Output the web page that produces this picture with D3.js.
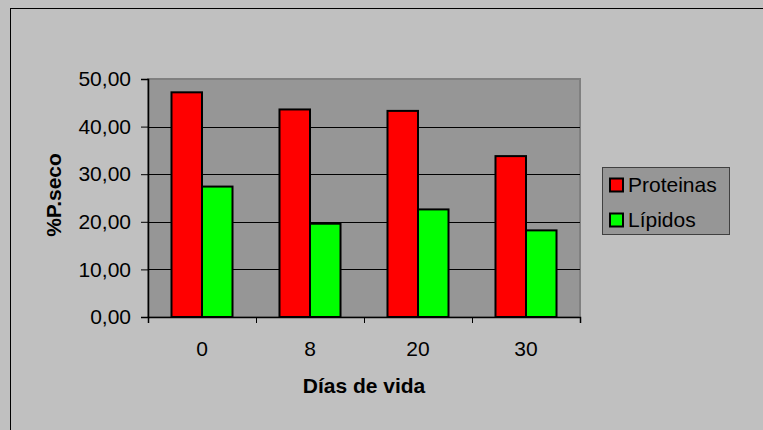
<!DOCTYPE html>
<html>
<head>
<meta charset="utf-8">
<script src="https://cdn.jsdelivr.net/npm/d3@7"></script>
<style>
	html, body { margin: 0; background: #c0c0c0; overflow: hidden; }
	svg { display: block; font-family: Arial, "Liberation Sans", sans-serif; }
</style>
</head>
<body>
<div id="chart"></div>
<script>
	// datos
	let dias = ["0", "8", "20", "30"];
	let series = ["Proteinas", "Lípidos"];
	let proteinas = [47.2, 43.6, 43.3, 33.8];
	let lipidos = [27.4, 19.6, 22.6, 18.2];
	let yTicks = [0, 10, 20, 30, 40, 50];
	let colores = ["#ff0000", "#00ff00"];

	let width = 763, height = 430;
	let plot = {left: 148, top: 79, right: 580, bottom: 317};

	let svg = d3.select("#chart").append("svg")
		.attr("width", width)
		.attr("height", height);

	// fondo y marco exterior (solo se ven los bordes superior e izquierdo)
	svg.append("rect")
		.attr("width", width).attr("height", height)
		.attr("fill", "#c0c0c0");
	svg.append("line")
		.attr("x1", 10).attr("x2", width)
		.attr("y1", 8.5).attr("y2", 8.5)
		.attr("stroke", "#000");
	svg.append("line")
		.attr("x1", 10.5).attr("x2", 10.5)
		.attr("y1", 8).attr("y2", height)
		.attr("stroke", "#000");

	let x0 = d3.scaleBand().domain(dias).range([plot.left, plot.right]);
	let x1 = d3.scaleBand().domain(series).range([0, x0.bandwidth()]).paddingOuter(0.77);
	let y = d3.scaleLinear().domain([0, 50]).range([plot.bottom, plot.top]);

	// area del grafico
	svg.append("rect")
		.attr("x", plot.left).attr("y", plot.top)
		.attr("width", plot.right - plot.left).attr("height", plot.bottom - plot.top)
		.attr("fill", "#969696")
		.attr("stroke", "#808080")
		.attr("stroke-width", 2);

	// lineas de division
	svg.append("g").selectAll("line")
		.data(yTicks.slice(1, -1))
		.enter().append("line")
		.attr("x1", plot.left).attr("x2", plot.right)
		.attr("y1", d => Math.round(y(d)) + 0.5).attr("y2", d => Math.round(y(d)) + 0.5)
		.attr("stroke", "#000");

	let filas = dias.map((d, i) => ({dia: d, valores: [proteinas[i], lipidos[i]]}));

	let grupos = svg.append("g").selectAll("g")
		.data(filas)
		.enter().append("g")
		.attr("transform", d => "translate(" + x0(d.dia) + ",0)");
	grupos.selectAll("rect")
		.data(d => d.valores.map((v, j) => ({serie: series[j], v: v, j: j})))
		.enter().append("rect")
		.attr("x", d => x1(d.serie))
		.attr("y", d => y(d.v))
		.attr("width", x1.bandwidth())
		.attr("height", d => y(0) - y(d.v))
		.attr("fill", d => colores[d.j])
		.attr("stroke", "#000")
		.attr("stroke-width", 2);

	// ejes
	let yAxis = d3.axisLeft(y).tickValues(yTicks).tickSize(7).tickPadding(10)
		.tickFormat(d => d3.format(".2f")(d).replace(".", ","));
	let yg = svg.append("g")
		.attr("transform", "translate(" + plot.left + ",0)")
		.call(yAxis);

	let xTickScale = d3.scaleLinear().domain([0, dias.length]).range([plot.left, plot.right]);
	let xAxisTicks = d3.axisBottom(xTickScale).tickValues(d3.range(dias.length + 1)).tickSize(6).tickFormat("");
	svg.append("g")
		.attr("transform", "translate(0," + plot.bottom + ")")
		.call(xAxisTicks);

	svg.selectAll(".domain").attr("stroke", "#000").attr("stroke-width", 1.5);
	svg.selectAll(".tick line").attr("stroke", "#000");
	yg.selectAll("text").attr("font-size", 21).attr("fill", "#000").attr("font-family", "Arial, 'Liberation Sans', sans-serif");

	svg.append("g").selectAll("text")
		.data(dias)
		.enter().append("text")
		.attr("x", d => x0(d) + x0.bandwidth() / 2)
		.attr("y", 356)
		.attr("text-anchor", "middle")
		.attr("font-size", 21)
		.text(d => d);

	// titulos
	svg.append("text")
		.attr("x", (plot.left + plot.right) / 2)
		.attr("y", 393)
		.attr("text-anchor", "middle")
		.attr("font-size", 21)
		.attr("font-weight", "bold")
		.text("Días de vida");

	svg.append("text")
		.attr("transform", "translate(61,195) rotate(-90)")
		.attr("text-anchor", "middle")
		.attr("font-size", 21)
		.attr("font-weight", "bold")
		.text("%P.seco");

	// leyenda
	let leyenda = svg.append("g");
	leyenda.append("rect")
		.attr("x", 602.5).attr("y", 167.5)
		.attr("width", 127).attr("height", 67)
		.attr("fill", "#969696")
		.attr("stroke", "#404040");
	let items = leyenda.selectAll("g.item")
		.data(series)
		.enter().append("g")
		.attr("class", "item")
		.attr("transform", (d, i) => "translate(0," + (i * 35) + ")");
	items.append("rect")
		.attr("x", 610).attr("y", 178.5)
		.attr("width", 13).attr("height", 13)
		.attr("fill", (d, i) => colores[i])
		.attr("stroke", "#000")
		.attr("stroke-width", 2);
	items.append("text")
		.attr("x", 628).attr("y", 192)
		.attr("font-size", 21)
		.text(d => d);
</script>
</body>
</html>
